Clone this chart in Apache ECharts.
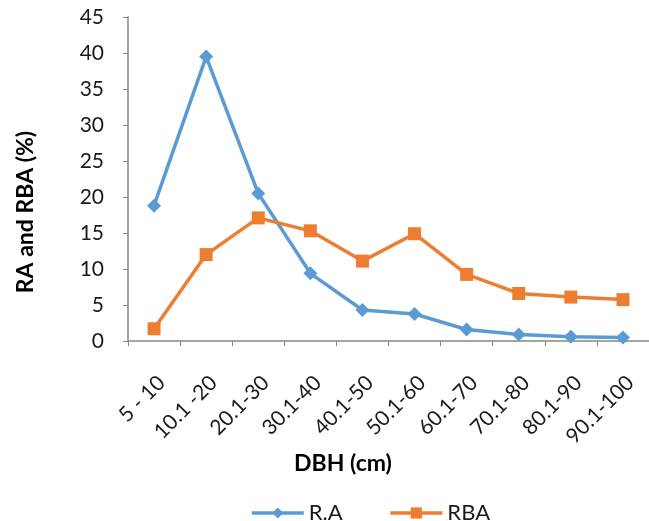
<!DOCTYPE html>
<html>
<head>
<meta charset="utf-8">
<script src="https://cdn.jsdelivr.net/npm/echarts@6/dist/echarts.min.js"></script>
<style>
html,body{margin:0;padding:0;background:#fff;}
#chart{width:649px;height:521px;}
</style>
</head>
<body>
<div id="chart"></div>
<script>
var categories = ['5 - 10', '10.1 -20', '20.1-30', '30.1-40', '40.1-50', '50.1-60', '60.1-70', '70.1-80', '80.1-90', '90.1-100'];
var raValues = [18.8, 39.5, 20.5, 9.4, 4.3, 3.75, 1.6, 0.9, 0.6, 0.5];
var rbaValues = [1.7, 12.0, 17.1, 15.3, 11.1, 14.9, 9.25, 6.6, 6.1, 5.75];
var yTicks = { min: 0, max: 45, interval: 5 };

var FONT = 'Lato, "Open Sans", sans-serif';
var AXIS_COLOR = '#868686';
var chart = echarts.init(document.getElementById('chart'), null, { renderer: 'canvas' });
chart.setOption({
  animation: false,
  backgroundColor: '#ffffff',
  grid: { left: 128, top: 17, right: -6, bottom: 180, containLabel: false },
  xAxis: {
    type: 'category',
    data: categories,
    boundaryGap: true,
    axisLine: { show: true, lineStyle: { color: AXIS_COLOR, width: 1.5 } },
    axisTick: { show: true, length: 5, inside: false, lineStyle: { color: AXIS_COLOR, width: 1 } },
    axisLabel: {
      interval: 0, rotate: 45, margin: 31,
      fontFamily: FONT, fontSize: 21, color: '#1a1a1a',
      verticalAlign: 'top'
    },
    splitLine: { show: false }
  },
  yAxis: {
    type: 'value',
    min: yTicks.min, max: yTicks.max, interval: yTicks.interval,
    axisLine: { show: true, lineStyle: { color: AXIS_COLOR, width: 1.5 } },
    axisTick: { show: true, length: 5, inside: false, lineStyle: { color: AXIS_COLOR, width: 1 } },
    axisLabel: { margin: 24, fontFamily: FONT, fontSize: 21, color: '#1a1a1a' },
    splitLine: { show: false }
  },
  legend: {
    left: 245, top: 497,
    itemWidth: 52, itemHeight: 14, itemGap: 46,
    lineStyle: { width: 3.5 },
    textStyle: { fontFamily: FONT, fontSize: 22, color: '#1a1a1a' },
    data: ['R.A', 'RBA']
  },
  graphic: [
    { type: 'text', x: 343, y: 464,
      style: { text: 'DBH (cm)', x: 0, y: 0, fontFamily: FONT, fontWeight: 'bold', fontSize: 23, fill: '#000', align: 'center', verticalAlign: 'middle' } },
    { type: 'text', x: 26, y: 212, rotation: Math.PI / 2,
      style: { text: 'RA and RBA (%)', x: 0, y: 0, fontFamily: FONT, fontWeight: 'bold', fontSize: 23, fill: '#000', align: 'center', verticalAlign: 'middle' } }
  ],
  series: [
    {
      name: 'R.A', type: 'line', data: raValues,
      symbol: 'diamond', symbolSize: 14,
      lineStyle: { color: '#5B9BD5', width: 3.5 },
      itemStyle: { color: '#5B9BD5' }
    },
    {
      name: 'RBA', type: 'line', data: rbaValues,
      symbol: 'rect', symbolSize: 13,
      lineStyle: { color: '#ED7D31', width: 3.5 },
      itemStyle: { color: '#ED7D31' }
    }
  ]
});
</script>
</body>
</html>
